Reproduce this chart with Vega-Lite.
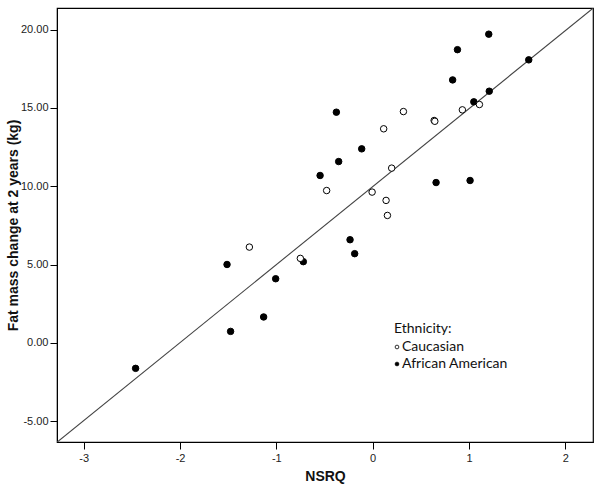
{
  "$schema": "https://vega.github.io/schema/vega-lite/v6.json",
  "width": 536,
  "height": 434,
  "autosize": "none",
  "padding": {"left": 57, "top": 8, "right": 8, "bottom": 46},
  "background": "white",
  "config": {
    "view": {"stroke": "#000000", "strokeWidth": 1.2},
    "axis": {
      "domainColor": "#000000",
      "tickColor": "#000000",
      "tickSize": 7,
      "grid": false,
      "labelFont": "Liberation Sans",
      "labelFontSize": 11,
      "labelColor": "#222222",
      "titleFont": "Liberation Sans",
      "titleFontWeight": "bold",
      "titleColor": "#111111"
    }
  },
  "datasets": {
    "pts": [
      {"nsrq": 1.205, "fat": 19.71, "eth": "African American"},
      {"nsrq": 0.88, "fat": 18.72, "eth": "African American"},
      {"nsrq": 1.62, "fat": 18.07, "eth": "African American"},
      {"nsrq": 0.83, "fat": 16.79, "eth": "African American"},
      {"nsrq": 1.21, "fat": 16.07, "eth": "African American"},
      {"nsrq": 1.05, "fat": 15.39, "eth": "African American"},
      {"nsrq": -0.377, "fat": 14.73, "eth": "African American"},
      {"nsrq": -0.114, "fat": 12.39, "eth": "African American"},
      {"nsrq": -0.353, "fat": 11.58, "eth": "African American"},
      {"nsrq": -0.546, "fat": 10.69, "eth": "African American"},
      {"nsrq": 0.658, "fat": 10.24, "eth": "African American"},
      {"nsrq": 1.011, "fat": 10.37, "eth": "African American"},
      {"nsrq": -0.235, "fat": 6.59, "eth": "African American"},
      {"nsrq": -0.187, "fat": 5.70, "eth": "African American"},
      {"nsrq": -0.72, "fat": 5.19, "eth": "African American"},
      {"nsrq": -1.512, "fat": 5.01, "eth": "African American"},
      {"nsrq": -1.007, "fat": 4.10, "eth": "African American"},
      {"nsrq": -1.132, "fat": 1.66, "eth": "African American"},
      {"nsrq": -1.475, "fat": 0.74, "eth": "African American"},
      {"nsrq": -2.461, "fat": -1.62, "eth": "African American"},
      {"nsrq": 0.319, "fat": 14.77, "eth": "Caucasian"},
      {"nsrq": 0.638, "fat": 14.20, "eth": "Caucasian"},
      {"nsrq": 0.645, "fat": 14.15, "eth": "Caucasian"},
      {"nsrq": 0.114, "fat": 13.67, "eth": "Caucasian"},
      {"nsrq": 0.931, "fat": 14.88, "eth": "Caucasian"},
      {"nsrq": 1.108, "fat": 15.22, "eth": "Caucasian"},
      {"nsrq": 0.197, "fat": 11.16, "eth": "Caucasian"},
      {"nsrq": -0.478, "fat": 9.73, "eth": "Caucasian"},
      {"nsrq": -0.006, "fat": 9.63, "eth": "Caucasian"},
      {"nsrq": 0.139, "fat": 9.10, "eth": "Caucasian"},
      {"nsrq": 0.153, "fat": 8.14, "eth": "Caucasian"},
      {"nsrq": -1.28, "fat": 6.12, "eth": "Caucasian"},
      {"nsrq": -0.751, "fat": 5.40, "eth": "Caucasian"}
    ],
    "fit": [
      {"nsrq": -3.28, "fat": -6.35},
      {"nsrq": 2.29, "fat": 21.38}
    ]
  },
  "layer": [
    {
      "data": {"name": "fit"},
      "mark": {"type": "line", "color": "#444444", "strokeWidth": 1.1, "clip": true},
      "encoding": {
        "x": {"field": "nsrq", "type": "quantitative"},
        "y": {"field": "fat", "type": "quantitative"}
      }
    },
    {
      "data": {"name": "pts"},
      "mark": {"type": "point", "shape": "circle", "filled": true, "stroke": "#000000", "strokeWidth": 1, "size": 42, "opacity": 1},
      "encoding": {
        "x": {
          "field": "nsrq", "type": "quantitative",
          "scale": {"domain": [-3.277, 2.287], "nice": false, "zero": false},
          "axis": {"title": "NSRQ", "values": [-3, -2, -1, 0, 1, 2], "labelExpr": "replace(format(datum.value, 'd'), '\u2212', '-')", "titleFontSize": 14, "titlePadding": 6, "labelPadding": 3}
        },
        "y": {
          "field": "fat", "type": "quantitative",
          "scale": {"domain": [-6.32, 21.38], "nice": false, "zero": false},
          "axis": {"title": "Fat mass change at 2 years (kg)", "values": [-5, 0, 5, 10, 15, 20], "labelExpr": "replace(format(datum.value, '.2f'), '\u2212', '-')", "titleFontSize": 14, "titlePadding": 0, "labelPadding": 2}
        },
        "fill": {
          "field": "eth", "type": "nominal",
          "scale": {"domain": ["Caucasian", "African American"], "range": ["#ffffff", "#000000"]},
          "legend": {
            "title": "Ethnicity:",
            "orient": "none",
            "legendX": 337,
            "legendY": 314,
            "titleFont": "Lato",
            "titleFontSize": 14,
            "titleFontWeight": "normal",
            "titleColor": "#111111",
            "titlePadding": 4,
            "labelFont": "Lato",
            "labelFontSize": 14,
            "labelColor": "#111111",
            "labelOffset": -2,
            "symbolOffset": -4,
            "symbolSize": 14,
            "symbolStrokeColor": "#000000",
            "symbolStrokeWidth": 0.8,
            "symbolType": "circle",
            "rowPadding": 3
          }
        }
      }
    }
  ]
}
